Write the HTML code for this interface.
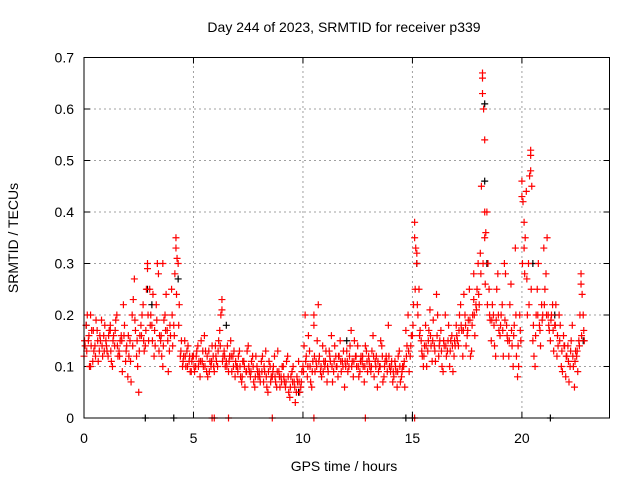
<!DOCTYPE html>
<html><head><meta charset="utf-8"><style>
body{margin:0;background:#fff}
svg{display:block;font-family:"Liberation Sans",sans-serif}
</style></head><body>
<svg id="chart" width="640" height="480" xmlns="http://www.w3.org/2000/svg">
<rect width="640" height="480" fill="#fff"/>
<text x="344" y="32" font-size="14" text-anchor="middle">Day 244 of 2023, SRMTID for receiver p339</text>
<text x="344" y="471" font-size="14" text-anchor="middle">GPS time / hours</text>
<text transform="translate(18,238) rotate(-90)" font-size="14" text-anchor="middle">SRMTID / TECUs</text>
<g id="grid"></g>
<g id="axes"></g>
<g id="black"></g>
<g id="red"></g>
<rect x="84" y="57.5" width="525.5" height="360.5" fill="none" stroke="#000" stroke-width="1"/>
</svg>
<script>
const xTicks=[0,5,10,15,20];
const yTicks=[0,0.1,0.2,0.3,0.4,0.5,0.6,0.7];
const yTickLabels=["0","0.1","0.2","0.3","0.4","0.5","0.6","0.7"];
const redStart=0, redStep=0.1;
const redValues=[.12,.18,.15,.2,.11,.14,.17,.13,.19,.16,
.15,.12,.18,.1,.14,.2,.13,.16,.22,.11,
.08,.15,.2,.27,.12,.05,.18,.22,.14,.3,
.25,.18,.12,.22,.28,.15,.1,.2,.17,.13,
.25,.18,.35,.3,.12,.1,.15,.13,.11,.09,
.12,.1,.14,.08,.11,.16,.09,.13,.1,.12,
.14,.1,.17,.23,.13,.11,.09,.15,.12,.08,
.1,.13,.07,.11,.09,.14,.08,.12,.06,.1,
.09,.11,.07,.13,.05,.1,.08,.12,.06,.09,
.08,.1,.06,.12,.04,.09,.07,.05,.11,.06,
.1,.2,.08,.13,.06,.18,.11,.22,.09,.14,
.1,.07,.13,.16,.09,.12,.08,.15,.11,.06,
.13,.1,.17,.08,.12,.14,.09,.11,.07,.13,
.12,.09,.16,.11,.06,.1,.14,.08,.12,.18,
.09,.07,.11,.06,.13,.08,.1,.17,.2,.12,
.16,.38,.3,.25,.15,.1,.18,.13,.21,.11,
.14,.24,.12,.17,.09,.2,.13,.1,.16,.12,
.18,.14,.22,.12,.2,.16,.25,.13,.28,.22,
.3,.32,.67,.54,.4,.25,.15,.2,.12,.28,
.16,.22,.3,.18,.12,.26,.1,.33,.08,.2,
.46,.38,.44,.3,.52,.15,.1,.25,.18,.22,
.33,.28,.2,.15,.22,.18,.12,.2,.1,.16,
.08,.14,.1,.18,.06,.12,.15,.28,.2];
const red2Start=0.05;
const redValues2=[.14,.2,.1,.17,.13,.19,.11,.15,.12,.18,
.13,.17,.11,.16,.19,.12,.15,.09,.18,.14,
.12,.07,.23,.17,.1,.16,.2,.13,.25,.15,
.2,.24,.14,.3,.16,.12,.19,.24,.09,.16,
.14,.28,.31,.22,.15,.12,.1,.14,.09,.12,
.09,.13,.11,.15,.1,.13,.08,.11,.14,.09,
.11,.15,.2,.12,.1,.14,.12,.09,.13,.1,
.12,.08,.11,.06,.13,.09,.11,.07,.12,.08,
.07,.12,.09,.06,.11,.08,.1,.07,.13,.06,
.1,.07,.11,.05,.08,.1,.03,.07,.05,.09,
.14,.12,.16,.07,.11,.09,.15,.12,.08,.11,
.13,.09,.11,.07,.14,.1,.12,.09,.13,.1,
.09,.14,.11,.15,.1,.08,.12,.1,.14,.09,
.1,.13,.08,.12,.09,.15,.07,.11,.09,.1,
.11,.08,.09,.12,.07,.1,.06,.14,.09,.16,
.22,.33,.2,.17,.12,.14,.1,.17,.14,.19,
.11,.2,.15,.1,.14,.12,.18,.15,.09,.14,
.15,.2,.17,.24,.14,.19,.12,.2,.16,.25,
.22,.45,.6,.36,.3,.19,.22,.14,.25,.17,
.2,.12,.28,.15,.22,.14,.18,.12,.1,.15,
.42,.35,.2,.47,.45,.12,.2,.3,.14,.2,
.25,.35,.17,.2,.13,.22,.14,.18,.09,.14,
.12,.07,.15,.1,.13,.09,.2,.24,.15];
const red3Start=0.025;
const redValues3=[.15,.13,.16,.14,.17,.12,.15,.16,.14,.13,
.14,.16,.13,.15,.17,.14,.12,.15,.16,.13,
.16,.11,.14,.19,.15,.13,.16,.15,.17,.2,
.18,.15,.17,.19,.13,.16,.14,.17,.15,.18,
.2,.16,.24,.18,.13,.11,.12,.1,.12,.11,
.1,.12,.1,.11,.13,.1,.12,.09,.11,.1,
.12,.13,.14,.11,.12,.1,.11,.12,.1,.11,
.09,.1,.08,.1,.09,.1,.09,.1,.08,.09,
.08,.09,.1,.08,.09,.07,.09,.08,.09,.08,
.07,.08,.07,.08,.06,.07,.06,.08,.07,.07,
.09,.11,.1,.1,.09,.12,.1,.11,.1,.09,
.11,.1,.12,.1,.11,.1,.12,.11,.1,.11,
.11,.12,.1,.11,.12,.1,.11,.12,.1,.11,
.11,.1,.12,.1,.11,.1,.12,.1,.11,.12,
.1,.09,.1,.09,.1,.09,.11,.12,.13,.14,
.18,.25,.22,.16,.13,.12,.14,.15,.16,.15,
.13,.16,.14,.13,.15,.14,.15,.13,.14,.15,
.16,.17,.18,.17,.18,.17,.19,.18,.2,.21,
.24,.28,.3,.26,.22,.2,.19,.18,.19,.2,
.18,.17,.19,.16,.15,.17,.16,.2,.14,.17,
.3,.28,.27,.22,.25,.18,.16,.2,.17,.19,
.22,.2,.18,.19,.17,.18,.16,.15,.13,.14,
.12,.11,.13,.12,.11,.13,.14,.16,.17];
const redExtraHours=[18.2,18.2,18.3,18.3,20.0,20.1,20.4,20.4,15.1,15.2,4.2,2.9,0.3,1.2,3.6,6.3,10.5,17.8,22.7,5.85,5.95,6.6,8.6,10.5,12.85,15.1];
const redExtraValues=[0.66,0.63,0.4,0.35,0.43,0.33,0.51,0.48,0.35,0.32,0.33,0.29,0.1,0.17,0.3,0.21,0.2,0.23,0.26,0,0,0,0,0,0,0];
const blackHours=[0.1,2.9,3.1,4.3,6.5,9.8,12.0,15.2,18.3,18.3,18.4,20.5,21.5,22.8,2.8,4.1,14.7,15.0,21.3];
const blackValues=[0.18,0.25,0.22,0.27,0.18,0.05,0.15,0.3,0.61,0.46,0.3,0.3,0.2,0.15,0,0,0,0,0];
const X0=84,X1=609.5,Y0=418,Y1=57.5,XMAX=24,YMAX=0.7;
const xs=v=>X0+v/XMAX*(X1-X0), ys=v=>Y0-v/YMAX*(Y0-Y1);
const NS="http://www.w3.org/2000/svg";
function mk(tag,attrs,parent){const e=document.createElementNS(NS,tag);for(const k in attrs)e.setAttribute(k,attrs[k]);parent.appendChild(e);return e;}
const grid=document.getElementById('grid'),axes=document.getElementById('axes');
xTicks.forEach(t=>{const x=xs(t);
 if(t>0){const g=mk('line',{x1:x,x2:x,y1:Y0,y2:Y1,stroke:'#a0a0a0','stroke-dasharray':'2,3'},grid);
 
 }
 mk('line',{x1:x,x2:x,y1:Y0,y2:Y0-6,stroke:'#000'},axes);
 mk('line',{x1:x,x2:x,y1:Y1,y2:Y1+6,stroke:'#000'},axes);
 const l=mk('text',{x:x,y:Y0+25,'font-size':14,'text-anchor':'middle'},axes);l.textContent=t;
 
 });
yTicks.forEach((t,i)=>{const y=ys(t);
 if(t>0&&t<YMAX){const g=mk('line',{x1:X0,x2:X1,y1:y,y2:y,stroke:'#a0a0a0','stroke-dasharray':'2,3'},grid);
 
 }
 mk('line',{x1:X0,x2:X0+6,y1:y,y2:y,stroke:'#000'},axes);
 mk('line',{x1:X1,x2:X1-6,y1:y,y2:y,stroke:'#000'},axes);
 const l=mk('text',{x:X0-10,y:y+5,'font-size':14,'text-anchor':'end'},axes);l.textContent=yTickLabels[i];
 
 });
function plus(g,h,v,col){const x=xs(h),y=ys(v);
 const p=mk('path',{d:`M${x-3.5},${y}h7M${x},${y-3.5}v7`,stroke:col,'stroke-width':1.2,fill:'none'},g);
 
 }
const bg=document.getElementById('black'),rg=document.getElementById('red');
blackHours.forEach((h,i)=>plus(bg,h,blackValues[i],'#000'));
redValues.forEach((v,i)=>plus(rg,redStart+i*redStep,v,'#f00'));
redValues2.forEach((v,i)=>plus(rg,red2Start+i*redStep,v,'#f00'));
redValues3.forEach((v,i)=>plus(rg,red3Start+i*redStep,v,'#f00'));
redExtraHours.forEach((h,i)=>plus(rg,h,redExtraValues[i],'#f00'));
</script>
</body></html>
